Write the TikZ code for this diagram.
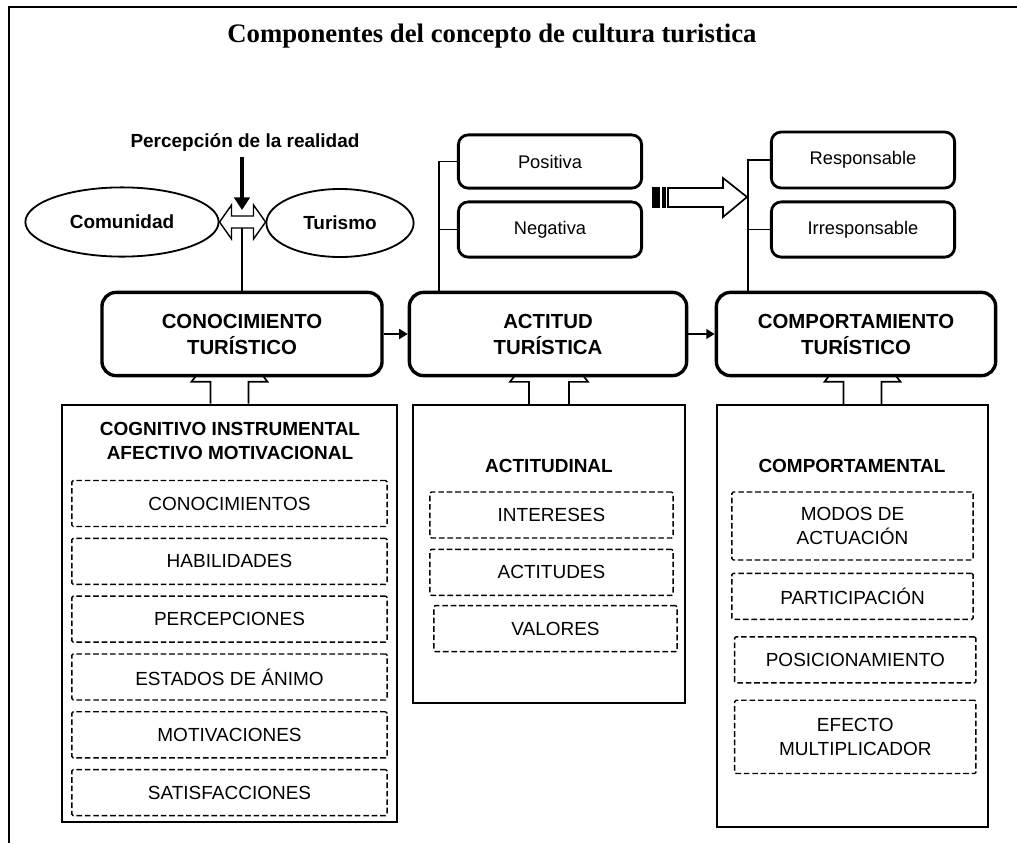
\documentclass[tikz,border=0pt]{standalone}
\usepackage{fontspec}
\setmainfont{Liberation Serif}
\setsansfont{Liberation Sans}
\usetikzlibrary{arrows.meta, positioning, shapes.geometric, backgrounds, calc}

\tikzset{
  bigbox/.style = {draw, line width=2.4pt, rounded corners=10pt, fill=white, align=center,
    font=\sffamily\bfseries\fontsize{14.5}{18.5}\selectfont, minimum height=2.08cm},
  optbox/.style = {draw, line width=2pt, rounded corners=7pt, fill=white,
    font=\sffamily\fontsize{13}{15}\selectfont, minimum width=4.58cm, minimum height=1.38cm},
  groupbox/.style = {draw, line width=1.6pt, fill=white},
  item/.style = {draw, line width=1pt, dash pattern=on 4pt off 2pt, rounded corners=1pt, align=center,
    font=\sffamily\fontsize{13.5}{17}\selectfont, minimum height=1.15cm},
  citem/.style = {item, minimum width=7.88cm},
  aitem/.style = {item, minimum width=6.08cm},
  mitem/.style = {item, minimum width=6.03cm},
  head/.style = {align=center, font=\sffamily\bfseries\fontsize{13.5}{17}\selectfont},
  blob/.style = {draw, ellipse, line width=1.3pt, font=\sffamily\bfseries\fontsize{13.5}{16}\selectfont},
  link/.style = {line width=2pt, -{Triangle[length=6pt, width=7pt]}},
  hollow/.style = {draw, line width=1.2pt, fill=white},
}

\begin{document}
\begin{tikzpicture}[x=0.025cm, y=-0.025cm]
  \useasboundingbox (0,0) rectangle (1017,843);
  \draw[line width=2pt] (1017,7) -- (9,7) -- (9,843);
  \node (title) at (492,36) {\fontsize{19}{22}\selectfont\bfseries Componentes del concepto de cultura turistica};

  % realidad
  \node (percep) [head] at (245,143) {Percepción de la realidad};
  \node (com) [blob, minimum width=4.83cm, minimum height=1.73cm] at (122,222) {Comunidad};
  \node (tur) [blob, minimum width=3.68cm, minimum height=1.7cm] at (340,223) {Turismo};
  \coordinate (midtop) at (242,210);
  \coordinate (midbot) at (242,228);

  % main row
  \node (cono) [bigbox, minimum width=7cm] at (242,334) {CONOCIMIENTO\\TURÍSTICO};
  \node (acti) [bigbox, minimum width=6.93cm] at (548,334) {ACTITUD\\TURÍSTICA};
  \node (comp) [bigbox, minimum width=6.98cm] at (856,334) {COMPORTAMIENTO\\TURÍSTICO};

  \node (pos) [optbox, minimum height=1.33cm] at (550,161.5) {Positiva};
  \node (neg) [optbox] at (550,229.5) {Negativa};
  \node (resp) [optbox, minimum height=1.4cm] at (863,160) {Responsable};
  \node (irr) [optbox] at (863,229.5) {Irresponsable};
  \coordinate (atree) at (439,293);
  \coordinate (ctree) at (748,293);

  % groups
  \node (cogn) [groupbox, minimum width=8.38cm, minimum height=10.43cm] at (229.5,613.5) {};
  \node (actd) [groupbox, minimum width=6.8cm, minimum height=7.45cm] at (549,554) {};
  \node (cmpd) [groupbox, minimum width=6.78cm, minimum height=10.55cm] at (852.5,616) {};

  \node (cognT) [head] at (230,441) {COGNITIVO INSTRUMENTAL\\AFECTIVO MOTIVACIONAL};
  \node (c1) [citem] at (229.5,503.5) {CONOCIMIENTOS};
  \node (c2) [citem, below=0.26cm of c1] {HABILIDADES};
  \node (c3) [citem, below=0.26cm of c2] {PERCEPCIONES};
  \node (c4) [citem, below=0.26cm of c3] {ESTADOS DE ÁNIMO};
  \node (c5) [citem, below=0.26cm of c4] {MOTIVACIONES};
  \node (c6) [citem, below=0.26cm of c5] {SATISFACCIONES};

  \node (actdT) [head] at (549,466) {ACTITUDINAL};
  \node (a1) [aitem] at (551.5,515) {INTERESES};
  \node (a2) [aitem, below=0.25cm of a1] {ACTITUDES};
  \node (a3) [aitem, below=0.22cm of a2, xshift=0.1cm] {VALORES};

  \node (cmpdT) [head] at (852,466) {COMPORTAMENTAL};
  \node (m1) [mitem, minimum height=1.7cm] at (852.5,526) {MODOS DE\\ACTUACIÓN};
  \node (m2) [mitem, below=0.3cm of m1] {PARTICIPACIÓN};
  \node (m3) [mitem, below=0.4cm of m2, xshift=0.07cm] {POSICIONAMIENTO};
  \node (m4) [mitem, minimum height=1.83cm, below=0.4cm of m3] {EFECTO\\MULTIPLICADOR};

  % connectors
  \draw[hollow, line width=1pt] (com.east) -- ++(12,-17) -- ++(0,11) -- ++(22,0) -- ++(0,-11)
    -- ++(12,17) -- ++(-12,17) -- ++(0,-11) -- ++(-22,0) -- ++(0,11) -- cycle;
  \draw[line width=2.5pt, -{Triangle[length=9pt, width=11pt]}] (percep.south -| midtop) -- (midtop);
  \draw[line width=1pt] (midbot) -- (cono.north);
  \draw[link] (cono) -- (acti);
  \draw[link] (acti) -- (comp);

  \draw[line width=1pt] (pos.west) -| (atree);
  \draw[line width=1pt] (neg.west) -| (atree);
  \draw[line width=1pt] (resp.west) -| (ctree);
  \draw[line width=1pt] (irr.west) -| (ctree);

  \draw[hollow] (668,188) -- (723,188) -- (723,178) -- (747,197) -- (723,217) -- (723,207) -- (668,207) -- cycle;
  \fill (652,187) rectangle (660,208);
  \fill (662,187) rectangle (666,208);

  \begin{scope}[on background layer]
    \draw[hollow] (cogn.north) ++(-19,0) -- ++(0,-22) -- ++(-19,0) -- ++(38,-50) -- ++(38,50) -- ++(-19,0) -- ++(0,22);
    \draw[hollow] (actd.north) ++(-20,0) -- ++(0,-22) -- ++(-19,0) -- ++(39,-50) -- ++(39,50) -- ++(-19,0) -- ++(0,22);
    \draw[hollow] ($(cmpd.north)+(10,0)$) ++(-19,0) -- ++(0,-22) -- ++(-19,0) -- ++(38,-50) -- ++(38,50) -- ++(-19,0) -- ++(0,22);
  \end{scope}
\end{tikzpicture}
\end{document}
